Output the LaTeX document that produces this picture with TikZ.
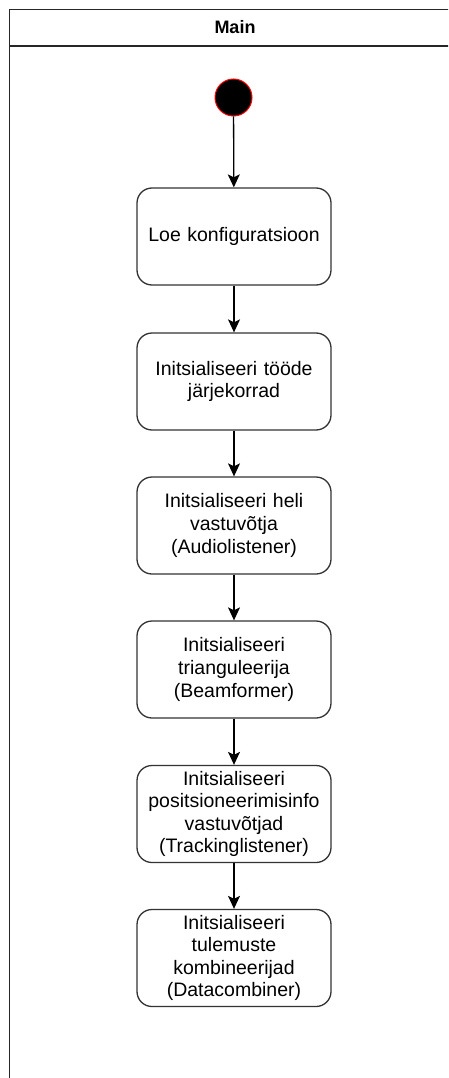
\documentclass[tikz,border=0pt]{standalone}
\usepackage{fontspec}
\setmainfont{Liberation Sans}
\usepackage{tikz}
\usetikzlibrary{positioning,arrows.meta}
\tikzset{
  act/.style  = {draw=black!80, line width=1.3pt, rounded corners=15pt, rectangle,
                 minimum width=194pt, minimum height=97pt, text width=184pt,
                 align=center, font=\fontsize{19.5}{22.6}\selectfont},
  start/.style = {circle, draw=red, fill=black, line width=1pt,
                  minimum size=37pt, inner sep=0pt},
  edge/.style = {->, >={Stealth[length=13pt, width=12pt, inset=3pt]},
                 line width=1.3pt},
  pool/.style = {draw=black!85, line width=1.5pt}
}

\begin{document}
\begin{tikzpicture}[x=1pt, y=-1pt]
  \useasboundingbox (0,0) rectangle (448,1078);
  \clip (0,0) rectangle (448,1078);
  % swimlane
  \draw[pool] (9.5,9.5) rectangle (470,1100);
  \draw[pool] (9.5,46) -- (470,46);
  \node[font=\bfseries\fontsize{18}{20}\selectfont] (title) at (235,27.5) {Main};
  % activities
  \node[start] (init) at (233.5,97.5) {};
  \node[act] (conf)  at (234,236.5) {Loe konfiguratsioon};
  \node[act] (queue) at (234,381.5) {Initsialiseeri tööde\\ järjekorrad};
  \node[act] (audio) at (234,525.5) {Initsialiseeri heli\\ vastuvõtja\\ (Audiolistener)};
  \node[act] (beam)  at (234,669.5) {Initsialiseeri\\ trianguleerija\\ (Beamformer)};
  \node[act] (track) at (234,814)   {Initsialiseeri\\ positsioneerimisinfo\\ vastuvõtjad\\ (Trackinglistener)};
  \node[act] (comb)  at (234,958)   {Initsialiseeri\\ tulemuste\\ kombineerijad\\ (Datacombiner)};
  \draw[edge] (init) -- (conf);
  \draw[edge] (conf) -- (queue);
  \draw[edge] (queue) -- (audio);
  \draw[edge] (audio) -- (beam);
  \draw[edge] (beam) -- (track);
  \draw[edge] (track) -- (comb);
\end{tikzpicture}
\end{document}
